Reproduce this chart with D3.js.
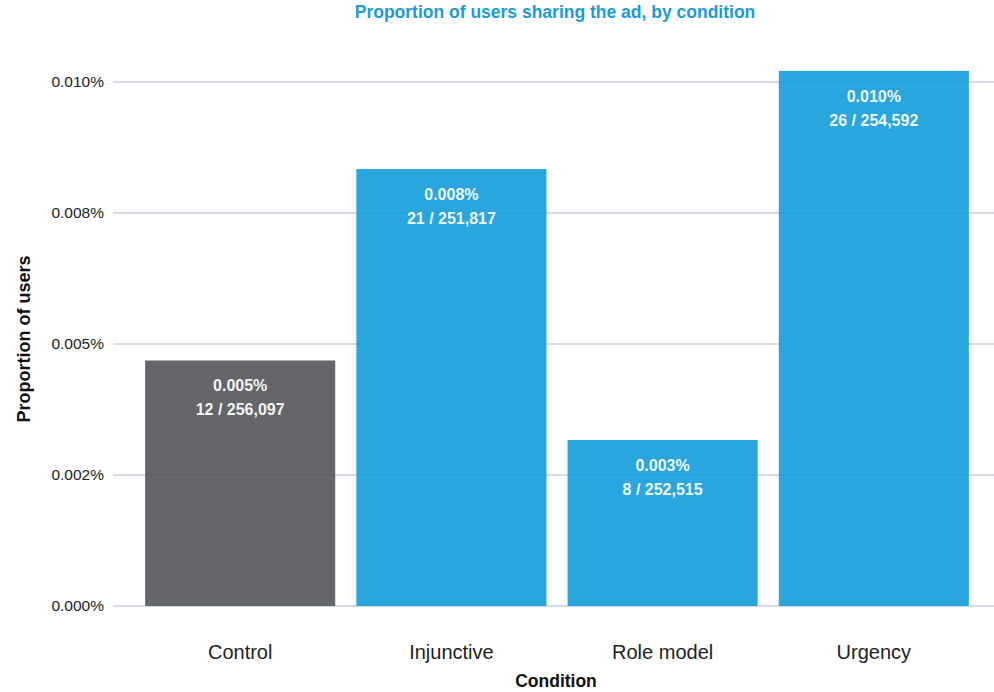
<!DOCTYPE html>
<html>
<head>
<meta charset="utf-8">
<script src="https://cdn.jsdelivr.net/npm/d3@7"></script>
<style>
  html, body { margin: 0; padding: 0; background: #fff; }
  svg { display: block; font-family: "Liberation Sans", Arial, sans-serif; }
</style>
</head>
<body>
<svg id="chart" width="994" height="692"></svg>
<script>
// Sharing counts per experimental condition
const conditions = ["Control", "Injunctive", "Role model", "Urgency"];
const sharers = [12, 21, 8, 26];
const users = [256097, 251817, 252515, 254592];
const barColors = ["#505156", "#0d9ada", "#0d9ada", "#0d9ada"];
const yTicks = [0, 0.0025, 0.005, 0.0075, 0.01];          // percent
const yTickLabels = ["0.000%", "0.002%", "0.005%", "0.008%", "0.010%"];

const rows = conditions.map((c, i) => ({
  condition: c,
  n: sharers[i],
  total: users[i],
  pct: sharers[i] / users[i] * 100,
  color: barColors[i]
}));

const svg = d3.select("#chart");
const plotLeft = 113, plotRight = 994, plotTop = 82, plotBottom = 606;

const x = d3.scaleBand()
  .domain(conditions)
  .range([124, 990])
  .paddingInner(0.1)
  .paddingOuter(0.1);

const y = d3.scaleLinear()
  .domain([0, 0.01])
  .range([plotBottom, plotTop]);

// horizontal gridlines
svg.append("g")
  .selectAll("line")
  .data(yTicks)
  .join("line")
  .attr("x1", plotLeft).attr("x2", plotRight)
  .attr("y1", d => y(d)).attr("y2", d => y(d))
  .attr("stroke", "#d3dce6")
  .attr("stroke-width", 2);

// y axis tick labels
const yAxis = d3.axisLeft(y)
  .tickValues(yTicks)
  .tickFormat((d, i) => yTickLabels[i])
  .tickSize(0)
  .tickPadding(0);
const gy = svg.append("g").attr("transform", `translate(104,0)`).call(yAxis);
gy.select(".domain").remove();
gy.selectAll("text")
  .attr("font-size", 15.5)
  .attr("fill", "#222")
  .attr("font-family", "Liberation Sans, Arial, sans-serif");

// bars
svg.append("g")
  .selectAll("rect")
  .data(rows)
  .join("rect")
  .attr("x", d => x(d.condition))
  .attr("width", x.bandwidth())
  .attr("y", d => y(d.pct))
  .attr("height", d => plotBottom - y(d.pct))
  .attr("fill", d => d.color)
  .attr("fill-opacity", 0.88);

// value labels inside bars
const fmtPct = d => d.toFixed(3) + "%";
const fmtNum = d3.format(",");
const lab = svg.append("g")
  .attr("font-weight", "bold")
  .attr("font-size", 16)
  .attr("fill", "#fff")
  .attr("fill-opacity", 0.95)
  .attr("text-anchor", "middle");
lab.selectAll("text.pct")
  .data(rows)
  .join("text")
  .attr("class", "pct")
  .attr("x", d => x(d.condition) + x.bandwidth() / 2)
  .attr("y", d => y(d.pct) + 31)
  .text(d => fmtPct(d.pct));
lab.selectAll("text.cnt")
  .data(rows)
  .join("text")
  .attr("class", "cnt")
  .attr("x", d => x(d.condition) + x.bandwidth() / 2)
  .attr("y", d => y(d.pct) + 55)
  .text(d => `${d.n} / ${fmtNum(d.total)}`);

// x axis labels
const xAxis = d3.axisBottom(x).tickSize(0).tickPadding(0);
const gx = svg.append("g").attr("transform", `translate(0,659)`).call(xAxis);
gx.select(".domain").remove();
gx.selectAll("text")
  .attr("dy", 0)
  .attr("font-size", 20)
  .attr("fill", "#222")
  .attr("font-family", "Liberation Sans, Arial, sans-serif");

// axis titles
svg.append("text")
  .attr("x", 556).attr("y", 687)
  .attr("text-anchor", "middle")
  .attr("font-weight", "bold")
  .attr("font-size", 17.5)
  .attr("fill", "#111")
  .text("Condition");

svg.append("text")
  .attr("transform", "translate(30,339) rotate(-90)")
  .attr("text-anchor", "middle")
  .attr("font-weight", "bold")
  .attr("font-size", 18)
  .attr("fill", "#111")
  .text("Proportion of users");

// title
svg.append("text")
  .attr("x", 555).attr("y", 18)
  .attr("text-anchor", "middle")
  .attr("font-weight", "bold")
  .attr("font-size", 17.5)
  .attr("fill", "#1a9bd7")
  .text("Proportion of users sharing the ad, by condition");
</script>
</body>
</html>
